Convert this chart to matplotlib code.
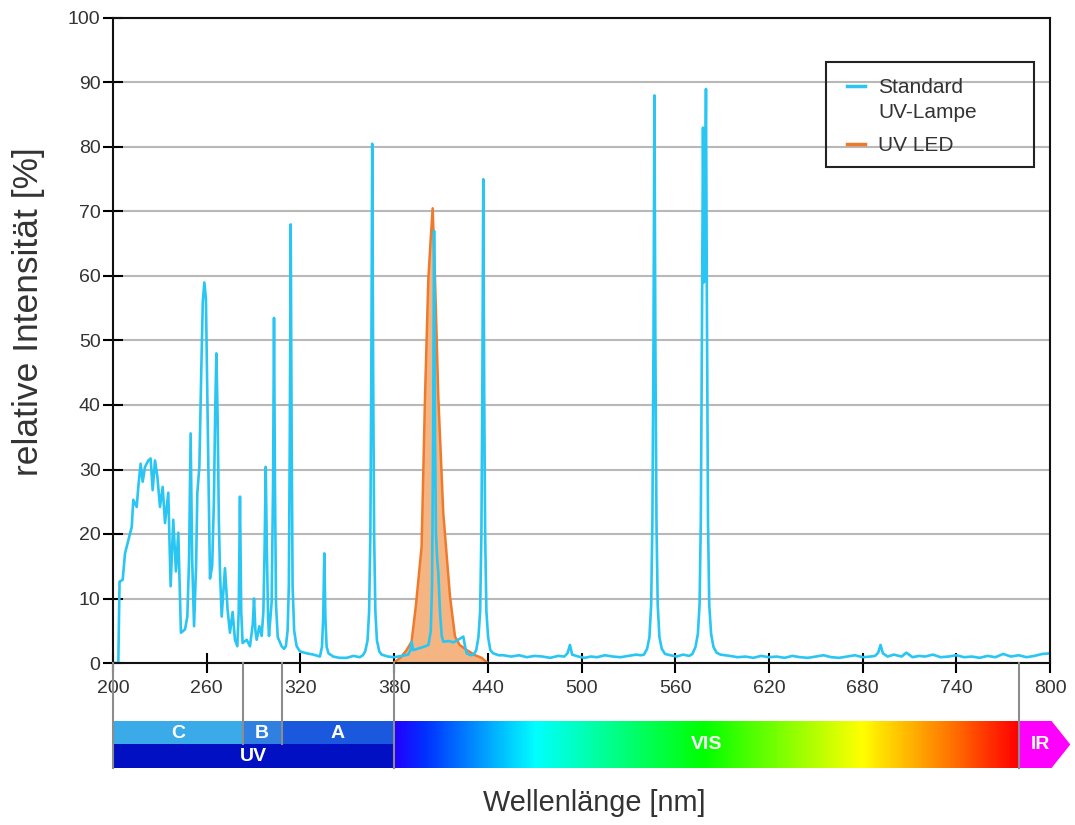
import numpy as np
import matplotlib.pyplot as plt
from matplotlib.colors import LinearSegmentedColormap
from matplotlib.patches import Rectangle, Polygon

plt.rcParams['font.family'] = ['Liberation Sans', 'DejaVu Sans']

# Standard UV-Lampe
lamp_nm = [200, 203.4, 204.2, 206.2, 207.7, 209.8, 212, 213, 215.2, 216.2, 217.7, 219, 220.5, 222.6, 224.1,
           225.4, 226.9, 228.4, 230.1, 231.8, 233.3, 235.4, 236.9, 238.6, 240.3, 241.8, 243.5, 246.1, 247.6,
           248.7, 249.7, 250.7, 251.9, 253.2, 254, 255.3, 256.5, 257.5, 258.5, 259.5, 260.5, 262.1, 263.5,
           264.6, 265.5, 266.2, 267, 267.8, 268.5, 269.6, 271.7, 273.4, 274.9, 276.6, 278.1, 279.6, 280.5,
           281.3, 282.1, 283, 285.6, 287.7, 289.5, 290.3, 291.2, 292, 293.7, 295.2, 296.3, 297.1, 297.8,
           298.5, 299.3, 299.9, 301.6, 302.5, 303.1, 303.7, 304.4, 305.5, 308, 309.5, 310.7, 311.8, 312.6,
           313.2, 313.8, 314.4, 315, 316, 317.6, 319.7, 324, 328.3, 332.5, 333.8, 334.6, 335.3, 336,
           336.8, 338, 341, 345, 349.6, 354, 358, 360, 361.5, 363, 364, 364.8, 365.4, 366, 366.6, 367.2,
           368, 369, 370.5, 372, 376, 380, 385, 389, 390.5, 391.2, 392.2, 395, 399, 402, 403.5, 404.3,
           405, 405.6, 406.2, 406.8, 407.6, 408.3, 409.4, 410.5, 411.5, 415, 418, 421, 424.3, 425.5,
           426.5, 429, 431, 432.6, 434, 435.1, 435.9, 436.5, 437.1, 437.7, 438.3, 439.1, 440.2, 441.6,
           443.5, 447, 450, 455, 460, 465, 470, 475, 480, 485, 489, 491, 492.6, 494, 498, 502, 506, 510,
           515, 520, 525, 530, 535, 538, 540, 542, 543.5, 544.6, 545.4, 546.1, 546.7, 547.3, 548, 548.8,
           549.9, 551.4, 553.5, 557, 561, 565, 569, 571, 573, 574.5, 575.6, 576.4, 577.1, 577.8, 578.4,
           579.1, 579.7, 580.3, 581, 581.8, 583, 584.5, 586.5, 589, 592, 595, 600, 605, 610, 615,
           620, 625, 630, 635, 640, 645, 650, 655, 660, 665, 670, 675, 680, 685, 688, 690, 691.5, 693,
           696, 700, 705, 708, 712, 716, 720, 725, 730, 735, 740, 745, 750, 755, 760, 765, 770, 775,
           780, 785, 790, 795, 800]
lamp_val = [0, 0, 12.6, 12.9, 17, 19, 21.1, 25.3, 24.2, 27.3, 30.9, 28.1, 30.4, 31.4, 31.7,
            26.8, 31.4, 28.9, 24.2, 27.3, 21.7, 26.4, 11.9, 22.2, 14.2, 20.2, 4.7, 5.2, 7.2,
            16, 35.6, 16, 5.7, 15, 26.4, 30.4, 45, 56, 59, 56.5, 40, 13.1, 15,
            25, 40, 48, 38, 22, 14.2, 7.2, 14.7, 8.2, 4.7, 7.9, 3.6, 2.6, 8,
            25.8, 8, 3.1, 3.6, 2.6, 6, 10, 5, 3.6, 5.7, 4.2, 8, 18, 30.4,
            18, 7, 4.2, 9.5, 28, 53.5, 28, 9, 4, 2.6, 2.2, 2.6, 5, 12,
            35, 68, 35, 12, 5, 2.6, 1.8, 1.5, 1.3, 1.0, 2.5, 7, 17, 7,
            2.5, 1.5, 1.0, 0.8, 0.8, 1.1, 0.9, 1.2, 1.8, 3.5, 8, 20, 45, 80.5, 45, 20,
            8, 3.5, 1.8, 1.3, 1.0, 0.9, 1.1, 1.3, 2.0, 3.3, 2.0, 2.2, 2.5, 2.8, 5, 12,
            35, 67, 35, 20, 16, 14, 7.8, 4.2, 3.3, 3.4, 3.2, 3.6, 4.1, 2.5,
            1.5, 1.2, 1.3, 2, 4, 8, 20, 42, 75, 42, 20, 8, 4, 2,
            1.5, 1.2, 1.2, 1.0, 1.2, 0.9, 1.1, 1.0, 0.8, 1.1, 1.0, 1.5, 2.8, 1.3, 1.0, 0.8, 1.0, 0.9,
            1.2, 1.0, 0.9, 1.1, 1.3, 1.2, 1.3, 2.2, 4, 9, 22, 50, 88, 50, 22, 9,
            4, 2.2, 1.4, 1.2, 1.0, 1.3, 1.1, 1.4, 2.5, 4.5, 9, 22, 50, 83, 59,
            70, 89, 55, 22, 9, 4.5, 2.5, 1.6, 1.3, 1.2, 1.1, 0.9, 1.0, 0.8, 1.1,
            0.9, 1.0, 0.8, 1.1, 0.9, 0.8, 1.0, 1.2, 0.9, 0.8, 1.0, 1.2, 0.9, 1.0, 1.1, 1.6, 2.8, 1.5,
            1.0, 1.3, 1.0, 1.6, 0.9, 1.1, 1.0, 1.3, 0.9, 1.0, 1.2, 0.9, 1.0, 0.8, 1.1, 0.9, 1.4, 1.0,
            1.2, 0.9, 1.1, 1.4, 1.5]

# UV LED
led_nm = [379.5, 384, 388, 391.2, 394, 397.6, 399.8, 401.9, 403.5, 404.7, 406.2, 408.3, 411.5,
          415.8, 419, 422, 426.5, 432, 436, 440]
led_val = [0, 0.8, 2.0, 3.3, 9, 18, 41.3, 59.4, 66, 70.5, 59.4, 41.3, 23.2, 10.3, 4.1, 2.8, 2, 1.2, 0.8, 0]

# spectrum band below the axis
bands = ['C', 'B', 'A']
band_edges = [200, 283, 308, 380]
band_colors = ['#3aaae8', '#2f80e0', '#1a58de']
vis_nm = [380, 400, 470, 578, 680, 735, 780]
vis_colors = ['#2200ff', '#0033ff', '#00ffff', '#00ff00', '#ffff00', '#ff7a00', '#ff0000']

lamp_color = '#29c6f4'
led_color = '#f07a2c'

fig = plt.figure(figsize=(10.75, 8.25), dpi=100)
ax = fig.add_axes([113/1075, 162/825, 937/1075, 645/825])

ax.fill_between(led_nm, led_val, color='#f5b583', lw=0)
ax.plot(led_nm, led_val, color=led_color, lw=1.8)
ax.plot(lamp_nm, lamp_val, color=lamp_color, lw=1.9)

ax.set_xlim(200, 800)
ax.set_ylim(0, 100)
ax.set_xticks(np.arange(200, 801, 60))
ax.set_yticks(np.arange(0, 101, 10))
ax.yaxis.grid(True, color='#b8b8b8', lw=1.5)
ax.set_axisbelow(True)
for s in ax.spines.values():
    s.set_linewidth(1.5)
    s.set_color('#111111')
ax.tick_params(direction='inout', length=14, width=1.5, labelsize=14, labelcolor='#333333')
ax.tick_params(axis='x', pad=5)
ax.tick_params(axis='y', pad=2)

# legend box (drawn by hand so the handle sits on the first text line)
ax.add_patch(Rectangle((0.761, 0.769), 0.222, 0.163, transform=ax.transAxes, fill=False,
                       ec='#222222', lw=1.5, zorder=5))
ax.plot([0.7834, 0.8026], [0.8946, 0.8946], transform=ax.transAxes, color=lamp_color, lw=2.5)
ax.plot([0.7834, 0.8026], [0.8047, 0.8047], transform=ax.transAxes, color=led_color, lw=2.5)
ax.text(0.8164, 0.893, 'Standard', transform=ax.transAxes, fontsize=15, color='#333333', va='center')
ax.text(0.8164, 0.854, 'UV-Lampe', transform=ax.transAxes, fontsize=15, color='#333333', va='center')
ax.text(0.8164, 0.8030, 'UV LED', transform=ax.transAxes, fontsize=15, color='#333333', va='center')

# band axes
axb = fig.add_axes([113/1075, 57/825, 937/1075, 105/825])
axb.set_xlim(200, 800)
axb.set_ylim(0, 105)
axb.axis('off')

for i in range(3):
    axb.add_patch(Rectangle((band_edges[i], 24), band_edges[i+1]-band_edges[i], 23, color=band_colors[i], lw=0))
    axb.text((band_edges[i]+band_edges[i+1])/2, 35, bands[i], color='white', fontsize=14,
             fontweight='bold', ha='center', va='center')
axb.add_patch(Rectangle((200, 0), 180, 24, color='#0010c2', lw=0))
axb.text(290, 11.5, 'UV', color='white', fontsize=14, fontweight='bold', ha='center', va='center')

cmap = LinearSegmentedColormap.from_list('vis', [((w-380)/400, c) for w, c in zip(vis_nm, vis_colors)])
axb.imshow(np.linspace(0, 1, 500).reshape(1, -1), cmap=cmap, extent=[380, 780, 0, 47], aspect='auto')
axb.text(580, 23.5, 'VIS', color='white', fontsize=14, fontweight='bold', ha='center', va='center')

axb.add_patch(Polygon([(780, 0), (801, 0), (813, 23.5), (801, 47), (780, 47)], color='#ff00ff',
                      lw=0, clip_on=False))
axb.text(794, 23.5, 'IR', color='white', fontsize=14, fontweight='bold', ha='center', va='center',
         clip_on=False)

# separator lines
for xv in [200, 380, 780]:
    axb.plot([xv, xv], [0, 105], color='#8c8c8c', lw=1.5, clip_on=False)
for xv in [283, 308]:
    axb.plot([xv, xv], [24, 105], color='#8c8c8c', lw=1.5, clip_on=False)
axb.set_xlim(200, 800)
axb.set_ylim(0, 105)

fig.text(29/1075, 1-312/825, 'relative Intensität [%]', rotation=90, ha='center', va='center',
         fontsize=25.5, color='#333333')
fig.text(594/1075, 1-803/825, 'Wellenlänge [nm]', ha='center', va='center', fontsize=20.8, color='#333333')

fig.savefig('out.png', dpi=100)
